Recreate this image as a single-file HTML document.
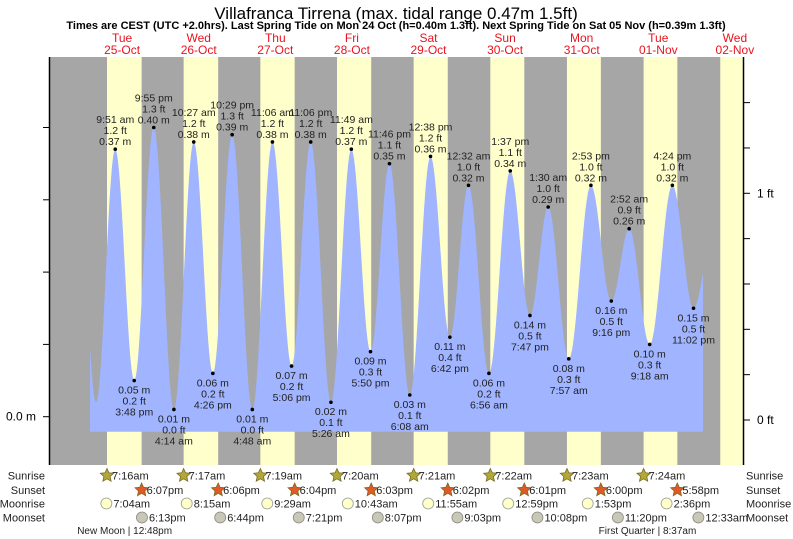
<!DOCTYPE html>
<html><head><meta charset="utf-8"><style>
body{margin:0;background:#fff;}
svg{display:block;font-family:"Liberation Sans",sans-serif;}
</style></head><body>
<svg id="chart" width="793" height="539" viewBox="0 0 793 539">
<text x="396" y="19" font-size="17" text-anchor="middle" fill="#000">Villafranca Tirrena (max. tidal range 0.47m 1.5ft)</text>
<text x="396" y="29" font-size="11" font-weight="bold" text-anchor="middle" fill="#000">Times are CEST (UTC +2.0hrs). Last Spring Tide on Mon 24 Oct (h=0.40m 1.3ft). Next Spring Tide on Sat 05 Nov (h=0.39m 1.3ft)</text>
<g id="bg"></g>
<g id="days"></g>
<path id="tide" fill="#a0b4ff"></path>
<g id="marks"></g>
<g id="axes"></g>
<g id="astro"></g>
</svg>
<script>
const dayNames=["Tue","Wed","Thu","Fri","Sat","Sun","Mon","Tue","Wed"];
const dayDates=["25-Oct","26-Oct","27-Oct","28-Oct","29-Oct","30-Oct","31-Oct","01-Nov","02-Nov"];
const tideDays=[-1,0,0,0,0,1,1,1,1,2,2,2,2,3,3,3,3,4,4,4,5,5,5,5,6,6,6,6,7,7,7,7,8];
const tideTimes=["9:40 pm","3:50 am","9:51 am","3:48 pm","9:55 pm","4:14 am","10:27 am","4:26 pm","10:29 pm","4:48 am","11:06 am","5:06 pm","11:06 pm","5:26 am","11:49 am","5:50 pm","11:46 pm","6:08 am","12:38 pm","6:42 pm","12:32 am","6:56 am","1:37 pm","7:47 pm","1:30 am","7:57 am","2:53 pm","9:16 pm","2:52 am","9:18 am","4:24 pm","11:02 pm","4:40 am"];
const tideHeights=[0.38,0.02,0.37,0.05,0.40,0.01,0.38,0.06,0.39,0.01,0.38,0.07,0.38,0.02,0.37,0.09,0.35,0.03,0.36,0.11,0.32,0.06,0.34,0.14,0.29,0.08,0.32,0.16,0.26,0.10,0.32,0.15,0.24];
const tideLabeled=[false,false,true,true,true,true,true,true,true,true,true,true,true,true,true,true,true,true,true,true,true,true,true,true,true,true,true,true,true,true,true,true,false];
const sunrise=["7:16am","7:17am","7:19am","7:20am","7:21am","7:22am","7:23am","7:24am","7:25am"];
const sunset=["6:07pm","6:06pm","6:04pm","6:03pm","6:02pm","6:01pm","6:00pm","5:58pm"];
const moonrise=["7:04am","8:15am","9:29am","10:43am","11:55am","12:59pm","1:53pm","2:36pm"];
const moonsetDays=[0,1,2,3,4,5,6,8];
const moonset=["6:13pm","6:44pm","7:21pm","8:07pm","9:03pm","10:08pm","11:20pm","12:33am"];
const phaseNames=["New Moon","First Quarter"];
const phaseDays=[0,7];
const phaseTimes=["12:48pm","8:37am"];
const leftTicks=[0,0.1,0.2,0.3,0.4];
const rightTicks=[0,0.2,0.4,0.6,0.8,1,1.2,1.4];

const NS="http://www.w3.org/2000/svg";
const X0=83.8, DW=76.6, PL=50, PR=743, PT=57, PB=465;
const Y0=416.7, PXM=723, FT0=420, PXF=226.7;
function hrs(t){const m=t.match(/(\d+):(\d+)\s*(am|pm)/);let h=+m[1]%12;if(m[3]=="pm")h+=12;return h+(+m[2])/60;}
function xOf(day,t){return X0+(day+hrs(t)/24)*DW;}
function yOf(h){return Y0-h*PXM;}
function yFt(f){return FT0-f*PXF;}
function el(tag,attrs,parent,txt){const e=document.createElementNS(NS,tag);for(const k in attrs)e.setAttribute(k,attrs[k]);if(txt!==undefined)e.textContent=txt;parent.appendChild(e);return e;}

const bg=document.getElementById('bg');
el('rect',{x:PL,y:PT,width:PR-PL,height:PB-PT,fill:'#a6a6a6'},bg);
for(let d=0;d<9;d++){
  const xs=xOf(d,sunrise[d]);
  const xe=d<sunset.length?xOf(d,sunset[d]):PR;
  const r=el('rect',{x:xs,y:PT,width:Math.min(xe,PR)-xs,height:PB-PT,fill:'#ffffcc'},bg);
  
  
}
const dg=document.getElementById('days');
for(let d=0;d<9;d++){
  const x=X0+(d+0.5)*DW;
  const t1=el('text',{x:x,y:42,'font-size':12,'text-anchor':'middle',fill:'#e8141e'},dg,dayNames[d]);
  
  
  const t2=el('text',{x:x,y:54,'font-size':12,'text-anchor':'middle',fill:'#e8141e'},dg,dayDates[d]);
  
  
}
const ex=tideTimes.map((t,i)=>({x:xOf(tideDays[i],t),h:tideHeights[i]}));
const FX0=90, FX1=703, FB=431.7;
let p=`M${FX0},${FB}`;
for(let x=FX0;x<=FX1;x+=1){
  let i=0;while(i<ex.length-2&&ex[i+1].x<x)i++;
  const a=ex[i],b=ex[i+1];
  const f=Math.min(1,Math.max(0,(x-a.x)/(b.x-a.x)));
  const h=a.h+(b.h-a.h)*(1-Math.cos(Math.PI*f))/2;
  p+=`L${x},${yOf(h).toFixed(2)}`;
}
p+=`L${FX1},${FB}Z`;
document.getElementById('tide').setAttribute('d',p);
const mg=document.getElementById('marks');
ex.forEach((e,i)=>{
  if(!tideLabeled[i])return;
  const y=yOf(e.h);
  const isHigh=(i>0&&tideHeights[i]>tideHeights[i-1]);
  const g=el('g',{},mg);
  
  
  el('circle',{cx:e.x,cy:y,r:1.8,fill:'#000'},g);
  const ft=(Math.round(tideHeights[i]/0.3048*10+1e-9)/10).toFixed(1)+' ft';
  const m=tideHeights[i].toFixed(2)+' m';
  const lines=isHigh?[tideTimes[i],ft,m]:[m,ft,tideTimes[i]];
  lines.forEach((s,k)=>{
    const yy=isHigh?y-4-(2-k)*11:y+13+k*11;
    el('text',{x:e.x,y:yy,'font-size':10.5,'text-anchor':'middle',fill:'#222'},g,s);
  });
});
const ax=document.getElementById('axes');
el('line',{x1:PL-0.5,y1:PT,x2:PL-0.5,y2:PB,stroke:'#000','stroke-width':1.5},ax);
el('line',{x1:PR+0.5,y1:PT,x2:PR+0.5,y2:PB,stroke:'#000','stroke-width':1.5},ax);
el('rect',{x:PR+1.5,y:PT,width:50,height:PB-PT,fill:'#fff'},ax);
leftTicks.forEach(v=>{el('line',{x1:PL-7,y1:yOf(v),x2:PL-1,y2:yOf(v),stroke:'#000'},ax);});
const lt=el('text',{x:36,y:yOf(0)+4,'font-size':12,'text-anchor':'end'},ax,'0.0 m');


rightTicks.forEach(v=>{
  const y=yFt(v);if(y<PT)return;
  el('line',{x1:PR+1,y1:y,x2:PR+7,y2:y,stroke:'#000'},ax);
  if(v===0||v===1){
    const t=el('text',{x:PR+14,y:y+4,'font-size':12},ax,v+' ft');
    
    
  }
});
const as=document.getElementById('astro');
const rows=[["Sunrise",475.5],["Sunset",490],["Moonrise",503.5],["Moonset",517.5]];
rows.forEach(r=>{
  const a=el('text',{x:45,y:r[1]+4,'font-size':11,'text-anchor':'end',fill:'#222'},as,r[0]);
  
  
  const b=el('text',{x:746,y:r[1]+4,'font-size':11,fill:'#222'},as,r[0]);
  
  
});
function star(cx,cy,fill){
  let pts=[];for(let k=0;k<10;k++){const r=k%2?3.3:7;const a=-Math.PI/2+k*Math.PI/5;pts.push((cx+r*Math.cos(a)).toFixed(1)+','+(cy+r*Math.sin(a)).toFixed(1));}
  return el('polygon',{points:pts.join(' '),fill:fill,stroke:'#7a6a20','stroke-width':0.8},as);
}
for(let d=0;d<8;d++){
  let x=xOf(d,sunrise[d]);star(x,475.5,'#b0a838');
  const t=el('text',{x:x+5,y:479.5,'font-size':11,fill:'#222'},as,sunrise[d]);
  
  x=xOf(d,sunset[d]);star(x,490,'#e05a28');
  const t2=el('text',{x:x+5,y:494,'font-size':11,fill:'#222'},as,sunset[d]);
  
  x=xOf(d,moonrise[d]);el('circle',{cx:x,cy:503.5,r:5.5,fill:'#ffffc8',stroke:'#999','stroke-width':0.8},as);
  const t3=el('text',{x:x+7,y:507.5,'font-size':11,fill:'#222'},as,moonrise[d]);
  
  x=xOf(moonsetDays[d],moonset[d]);el('circle',{cx:x,cy:517.5,r:5.5,fill:'#c8c8b4',stroke:'#888','stroke-width':0.8},as);
  const t4=el('text',{x:x+7,y:521.5,'font-size':11,fill:'#222'},as,moonset[d]);
  
}
phaseNames.forEach((n,i)=>{
  const x=xOf(phaseDays[i],phaseTimes[i]);
  const t=el('text',{x:x,y:534,'font-size':10,'text-anchor':'middle',fill:'#222'},as,n+' | '+phaseTimes[i]);
  
  
});
</script>
</body></html>
